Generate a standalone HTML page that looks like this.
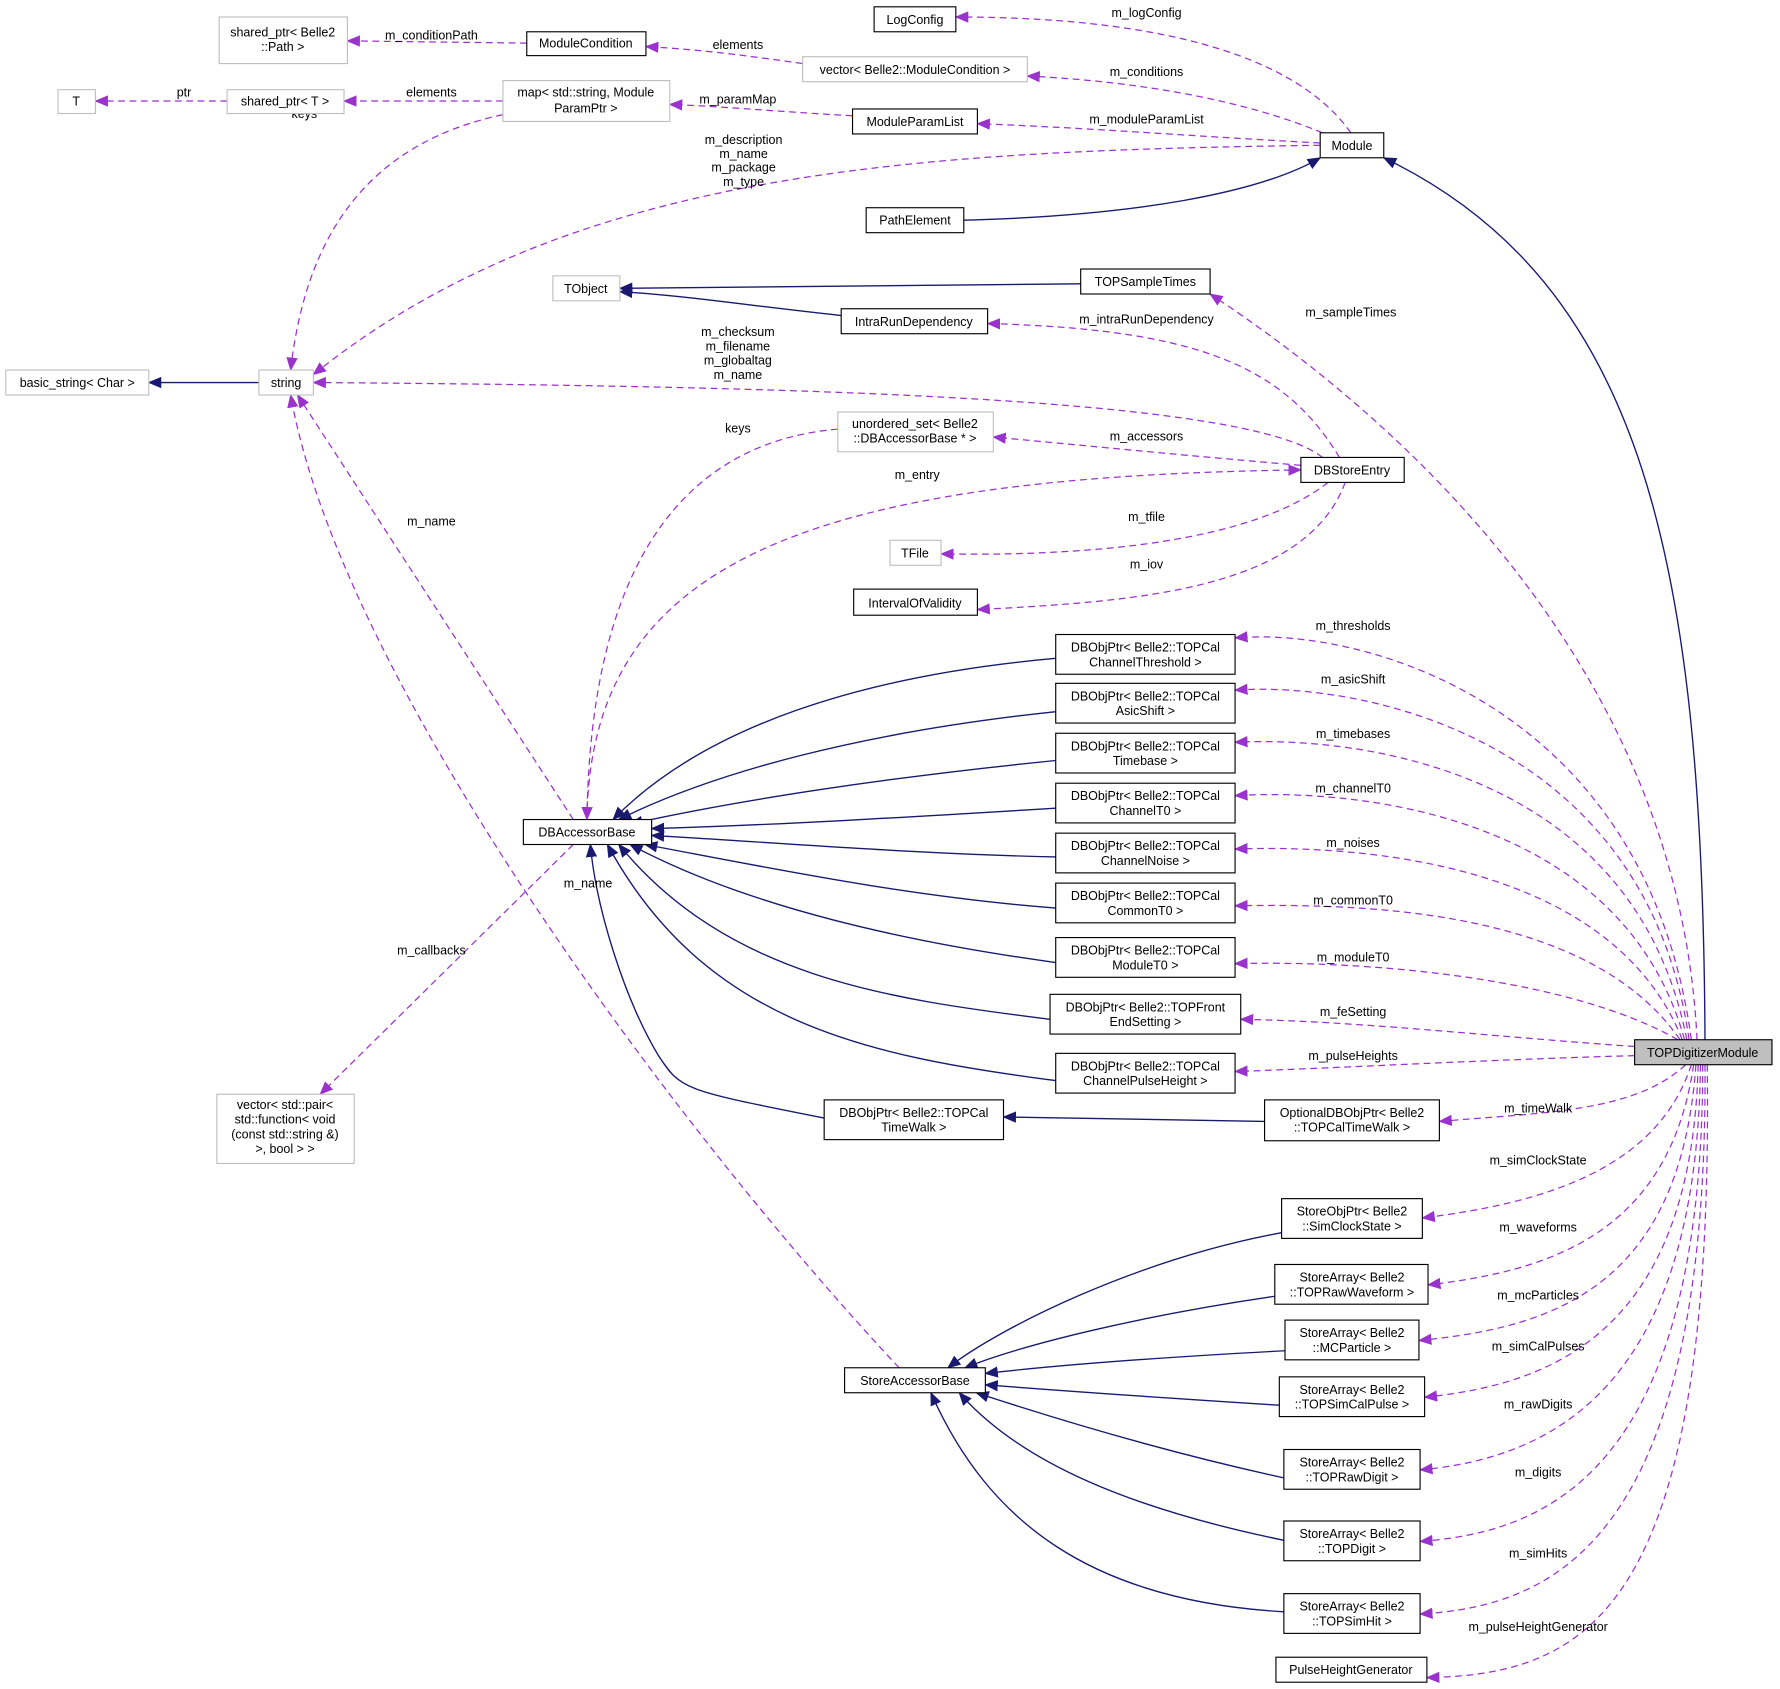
<!DOCTYPE html>
<html><head><meta charset="utf-8"><style>
html,body{margin:0;padding:0;background:#fff;}
svg{display:block;}
text{font-family:"Liberation Sans",Arial,sans-serif;font-size:11px;fill:#000;}
.b{fill:#fff;stroke:#000;stroke-width:1;}
.g{fill:#fff;stroke:#bfbfbf;stroke-width:1;}
.n{fill:none;stroke:#191970;stroke-width:1.2;}
.p{fill:none;stroke:#9a32cd;stroke-width:1.1;stroke-dasharray:6,4;}
</style></head><body>
<svg width="1780" height="1689" viewBox="0 0 1568 1488" xmlns="http://www.w3.org/2000/svg">
<defs>
<marker id="an" markerWidth="12" markerHeight="10" refX="11" refY="5" orient="auto" markerUnits="userSpaceOnUse"><polygon points="0,0 12,5 0,10" fill="#191970"/></marker>
<marker id="ap" markerWidth="12" markerHeight="10" refX="11" refY="5" orient="auto" markerUnits="userSpaceOnUse"><polygon points="0,0 12,5 0,10" fill="#9a32cd"/></marker>
</defs>

<!-- navy edges -->
<g class="n">
<path d="M1502,916 C1500,500 1450,250 1219,139" marker-end="url(#an)"/>
<path d="M849,194 C1000,190 1110,170 1163,139" marker-end="url(#an)"/>
<path d="M952,250 L546,254" marker-end="url(#an)"/>
<path d="M741,278 C650,268 600,260 546,257" marker-end="url(#an)"/>
<path d="M228,337 L131,337" marker-end="url(#an)"/>
<path d="M930,580 C760,595 620,640 540,722" marker-end="url(#an)"/>
<path d="M930,627 C760,645 630,680 545,722" marker-end="url(#an)"/>
<path d="M930,670 C780,685 650,705 555,726" marker-end="url(#an)"/>
<path d="M930,712 C800,720 680,727 574,730" marker-end="url(#an)"/>
<path d="M930,755 C800,752 680,742 574,736" marker-end="url(#an)"/>
<path d="M930,800 C800,790 680,765 568,744" marker-end="url(#an)"/>
<path d="M930,848 C800,830 660,800 555,744" marker-end="url(#an)"/>
<path d="M925,898 C780,880 640,860 545,744" marker-end="url(#an)"/>
<path d="M930,952 C760,930 620,900 535,744" marker-end="url(#an)"/>
<path d="M726,985 C600,960 600,960 580,930 C550,880 525,800 520,744" marker-end="url(#an)"/>
<path d="M1114,988 L884,984" marker-end="url(#an)"/>
<path d="M1129,1086 C1000,1110 880,1170 835,1205" marker-end="url(#an)"/>
<path d="M1123,1142 C1000,1160 900,1185 850,1205" marker-end="url(#an)"/>
<path d="M1132,1190 C1000,1197 920,1204 868,1210" marker-end="url(#an)"/>
<path d="M1127,1238 C1000,1230 920,1224 868,1220" marker-end="url(#an)"/>
<path d="M1131,1302 C1030,1280 930,1250 860,1227" marker-end="url(#an)"/>
<path d="M1131,1357 C1000,1330 900,1290 845,1227" marker-end="url(#an)"/>
<path d="M1131,1420 C960,1410 870,1340 820,1227" marker-end="url(#an)"/>
</g>

<!-- purple edges -->
<g class="p">
<path d="M464,38 L306,36" marker-end="url(#ap)"/>
<path d="M707,56 C650,48 620,44 569,41" marker-end="url(#ap)"/>
<path d="M1190,117 C1150,60 1050,15 842,15" marker-end="url(#ap)"/>
<path d="M1165,117 C1100,90 1010,72 905,67" marker-end="url(#ap)"/>
<path d="M1163,126 C1050,120 950,112 861,109" marker-end="url(#ap)"/>
<path d="M1163,128 C800,133 500,150 276,330" marker-end="url(#ap)"/>
<path d="M751,102 C680,98 640,94 590,92" marker-end="url(#ap)"/>
<path d="M443,89 L303,89" marker-end="url(#ap)"/>
<path d="M200,89 L84,89" marker-end="url(#ap)"/>
<path d="M443,101 C330,125 270,200 256,326" marker-end="url(#ap)"/>
<path d="M1495,916 C1480,600 1250,380 1066,259" marker-end="url(#ap)"/>
<path d="M1180,403 C1130,320 1050,290 870,285" marker-end="url(#ap)"/>
<path d="M1165,403 C1100,350 700,340 276,337" marker-end="url(#ap)"/>
<path d="M1146,410 C1030,400 950,392 875,385" marker-end="url(#ap)"/>
<path d="M738,378 C600,390 520,500 517,722" marker-end="url(#ap)"/>
<path d="M517,722 C520,500 700,420 1146,414" marker-end="url(#ap)"/>
<path d="M1170,425 C1100,480 950,490 829,488" marker-end="url(#ap)"/>
<path d="M1185,425 C1150,520 1000,530 861,537" marker-end="url(#ap)"/>
<path d="M505,722 L262,348" marker-end="url(#ap)"/>
<path d="M505,744 L282,964" marker-end="url(#ap)"/>
<path d="M792,1205 C600,1000 300,600 256,348" marker-end="url(#ap)"/>
<path d="M1490,916 C1450,620 1200,552 1088,562" marker-end="url(#ap)"/>
<path d="M1488,916 C1450,650 1200,600 1088,608" marker-end="url(#ap)"/>
<path d="M1486,916 C1440,680 1200,648 1088,654" marker-end="url(#ap)"/>
<path d="M1484,916 C1430,720 1200,694 1088,701" marker-end="url(#ap)"/>
<path d="M1482,916 C1420,760 1200,744 1088,748" marker-end="url(#ap)"/>
<path d="M1480,916 C1400,800 1200,796 1088,798" marker-end="url(#ap)"/>
<path d="M1478,916 C1380,860 1200,846 1088,849" marker-end="url(#ap)"/>
<path d="M1440,922 C1300,912 1200,900 1093,898" marker-end="url(#ap)"/>
<path d="M1440,930 C1300,934 1200,940 1088,944" marker-end="url(#ap)"/>
<path d="M1485,938 C1440,980 1360,980 1268,988" marker-end="url(#ap)"/>
<path d="M1490,938 C1460,1030 1360,1060 1253,1073" marker-end="url(#ap)"/>
<path d="M1492,938 C1470,1090 1360,1120 1258,1132" marker-end="url(#ap)"/>
<path d="M1494,938 C1480,1140 1360,1170 1250,1181" marker-end="url(#ap)"/>
<path d="M1496,938 C1490,1180 1360,1220 1255,1231" marker-end="url(#ap)"/>
<path d="M1498,938 C1495,1230 1360,1285 1251,1295" marker-end="url(#ap)"/>
<path d="M1500,938 C1500,1300 1360,1350 1251,1358" marker-end="url(#ap)"/>
<path d="M1502,938 C1505,1370 1360,1415 1251,1422" marker-end="url(#ap)"/>
<path d="M1504,938 C1510,1420 1400,1475 1257,1478" marker-end="url(#ap)"/>
</g>

<!-- edge labels -->
<g text-anchor="middle">
<text x="380" y="35">m_conditionPath</text>
<text x="650" y="43">elements</text>
<text x="1010" y="15">m_logConfig</text>
<text x="1010" y="67">m_conditions</text>
<text x="1010" y="109">m_moduleParamList</text>
<text x="655" y="127">m_description</text>
<text x="655" y="139">m_name</text>
<text x="655" y="151">m_package</text>
<text x="655" y="164">m_type</text>
<text x="650" y="91">m_paramMap</text>
<text x="380" y="85">elements</text>
<text x="162" y="85">ptr</text>
<text x="268" y="104">keys</text>
<text x="1190" y="279">m_sampleTimes</text>
<text x="1010" y="285">m_intraRunDependency</text>
<text x="650" y="296">m_checksum</text>
<text x="650" y="309">m_filename</text>
<text x="650" y="321">m_globaltag</text>
<text x="650" y="334">m_name</text>
<text x="1010" y="388">m_accessors</text>
<text x="650" y="381">keys</text>
<text x="808" y="422">m_entry</text>
<text x="1010" y="459">m_tfile</text>
<text x="1010" y="501">m_iov</text>
<text x="380" y="463">m_name</text>
<text x="380" y="841">m_callbacks</text>
<text x="518" y="782">m_name</text>
<text x="1192" y="555">m_thresholds</text>
<text x="1192" y="602">m_asicShift</text>
<text x="1192" y="650">m_timebases</text>
<text x="1192" y="698">m_channelT0</text>
<text x="1192" y="746">m_noises</text>
<text x="1192" y="797">m_commonT0</text>
<text x="1192" y="847">m_moduleT0</text>
<text x="1192" y="895">m_feSetting</text>
<text x="1192" y="934">m_pulseHeights</text>
<text x="1355" y="980">m_timeWalk</text>
<text x="1355" y="1026">m_simClockState</text>
<text x="1355" y="1085">m_waveforms</text>
<text x="1355" y="1145">m_mcParticles</text>
<text x="1355" y="1190">m_simCalPulses</text>
<text x="1355" y="1241">m_rawDigits</text>
<text x="1355" y="1301">m_digits</text>
<text x="1355" y="1372">m_simHits</text>
<text x="1355" y="1437">m_pulseHeightGenerator</text>
</g>

<!-- nodes -->
<g>
<rect class="g" x="193" y="15" width="113" height="41"/>
<rect class="b" x="464" y="28" width="105" height="21"/>
<rect class="b" x="770" y="6" width="72" height="22"/>
<rect class="g" x="707" y="50" width="198" height="22"/>
<rect class="g" x="51" y="79" width="33" height="21"/>
<rect class="g" x="200" y="79" width="103" height="21"/>
<rect class="g" x="443" y="71" width="147" height="36"/>
<rect class="b" x="751" y="96" width="110" height="22"/>
<rect class="b" x="1163" y="117" width="56" height="22"/>
<rect class="b" x="763" y="183" width="86" height="22"/>
<rect class="g" x="487" y="243" width="59" height="22"/>
<rect class="b" x="952" y="237" width="114" height="22"/>
<rect class="b" x="741" y="272" width="129" height="22"/>
<rect class="g" x="5" y="326" width="126" height="22"/>
<rect class="g" x="228" y="326" width="48" height="22"/>
<rect class="g" x="738" y="363" width="137" height="35"/>
<rect class="b" x="1146" y="403" width="91" height="22"/>
<rect class="g" x="784" y="476" width="45" height="22"/>
<rect class="b" x="752" y="519" width="109" height="23"/>
<rect class="b" x="930" y="559" width="158" height="35"/>
<rect class="b" x="930" y="602" width="158" height="35"/>
<rect class="b" x="930" y="646" width="158" height="35"/>
<rect class="b" x="930" y="690" width="158" height="35"/>
<rect class="b" x="930" y="734" width="158" height="35"/>
<rect class="b" x="930" y="778" width="158" height="35"/>
<rect class="b" x="930" y="826" width="158" height="35"/>
<rect class="b" x="925" y="876" width="168" height="35"/>
<rect class="b" x="930" y="928" width="158" height="35"/>
<rect class="b" x="461" y="722" width="113" height="22"/>
<rect x="1440" y="916" width="121" height="22" fill="#bfbfbf" stroke="#000"/>
<rect class="g" x="191" y="964" width="121" height="61"/>
<rect class="b" x="726" y="969" width="158" height="35"/>
<rect class="b" x="1114" y="969" width="154" height="36"/>
<rect class="b" x="1129" y="1056" width="124" height="35"/>
<rect class="b" x="1123" y="1114" width="135" height="35"/>
<rect class="b" x="1132" y="1163" width="118" height="35"/>
<rect class="b" x="1127" y="1213" width="128" height="35"/>
<rect class="b" x="1131" y="1277" width="120" height="35"/>
<rect class="b" x="1131" y="1340" width="120" height="35"/>
<rect class="b" x="1131" y="1404" width="120" height="35"/>
<rect class="b" x="744" y="1205" width="124" height="22"/>
<rect class="b" x="1124" y="1460" width="133" height="22"/>
</g>

<g text-anchor="middle">
<text x="249" y="32">shared_ptr&lt; Belle2</text><text x="249" y="45">::Path &gt;</text>
<text x="516" y="42">ModuleCondition</text>
<text x="806" y="21">LogConfig</text>
<text x="806" y="65">vector&lt; Belle2::ModuleCondition &gt;</text>
<text x="67" y="93">T</text>
<text x="251" y="93">shared_ptr&lt; T &gt;</text>
<text x="516" y="85">map&lt; std::string, Module</text><text x="516" y="99">ParamPtr &gt;</text>
<text x="806" y="111">ModuleParamList</text>
<text x="1191" y="132">Module</text>
<text x="806" y="198">PathElement</text>
<text x="516" y="258">TObject</text>
<text x="1009" y="252">TOPSampleTimes</text>
<text x="805" y="287">IntraRunDependency</text>
<text x="68" y="341">basic_string&lt; Char &gt;</text>
<text x="252" y="341">string</text>
<text x="806" y="377">unordered_set&lt; Belle2</text><text x="806" y="390">::DBAccessorBase * &gt;</text>
<text x="1191" y="418">DBStoreEntry</text>
<text x="806" y="491">TFile</text>
<text x="806" y="535">IntervalOfValidity</text>
<text x="1009" y="574">DBObjPtr&lt; Belle2::TOPCal</text><text x="1009" y="587">ChannelThreshold &gt;</text>
<text x="1009" y="617">DBObjPtr&lt; Belle2::TOPCal</text><text x="1009" y="630">AsicShift &gt;</text>
<text x="1009" y="661">DBObjPtr&lt; Belle2::TOPCal</text><text x="1009" y="674">Timebase &gt;</text>
<text x="1009" y="705">DBObjPtr&lt; Belle2::TOPCal</text><text x="1009" y="718">ChannelT0 &gt;</text>
<text x="1009" y="749">DBObjPtr&lt; Belle2::TOPCal</text><text x="1009" y="762">ChannelNoise &gt;</text>
<text x="1009" y="793">DBObjPtr&lt; Belle2::TOPCal</text><text x="1009" y="806">CommonT0 &gt;</text>
<text x="1009" y="841">DBObjPtr&lt; Belle2::TOPCal</text><text x="1009" y="854">ModuleT0 &gt;</text>
<text x="1009" y="891">DBObjPtr&lt; Belle2::TOPFront</text><text x="1009" y="904">EndSetting &gt;</text>
<text x="1009" y="943">DBObjPtr&lt; Belle2::TOPCal</text><text x="1009" y="956">ChannelPulseHeight &gt;</text>
<text x="517" y="737">DBAccessorBase</text>
<text x="1500" y="931">TOPDigitizerModule</text>
<text x="251" y="977">vector&lt; std::pair&lt;</text><text x="251" y="990">std::function&lt; void</text><text x="251" y="1003">(const std::string &amp;)</text><text x="251" y="1016">&gt;, bool &gt; &gt;</text>
<text x="805" y="984">DBObjPtr&lt; Belle2::TOPCal</text><text x="805" y="997">TimeWalk &gt;</text>
<text x="1191" y="984">OptionalDBObjPtr&lt; Belle2</text><text x="1191" y="997">::TOPCalTimeWalk &gt;</text>
<text x="1191" y="1071">StoreObjPtr&lt; Belle2</text><text x="1191" y="1084">::SimClockState &gt;</text>
<text x="1191" y="1129">StoreArray&lt; Belle2</text><text x="1191" y="1142">::TOPRawWaveform &gt;</text>
<text x="1191" y="1178">StoreArray&lt; Belle2</text><text x="1191" y="1191">::MCParticle &gt;</text>
<text x="1191" y="1228">StoreArray&lt; Belle2</text><text x="1191" y="1241">::TOPSimCalPulse &gt;</text>
<text x="1191" y="1292">StoreArray&lt; Belle2</text><text x="1191" y="1305">::TOPRawDigit &gt;</text>
<text x="1191" y="1355">StoreArray&lt; Belle2</text><text x="1191" y="1368">::TOPDigit &gt;</text>
<text x="1191" y="1419">StoreArray&lt; Belle2</text><text x="1191" y="1432">::TOPSimHit &gt;</text>
<text x="806" y="1220">StoreAccessorBase</text>
<text x="1190" y="1475">PulseHeightGenerator</text>
</g>
</svg>
</body></html>
